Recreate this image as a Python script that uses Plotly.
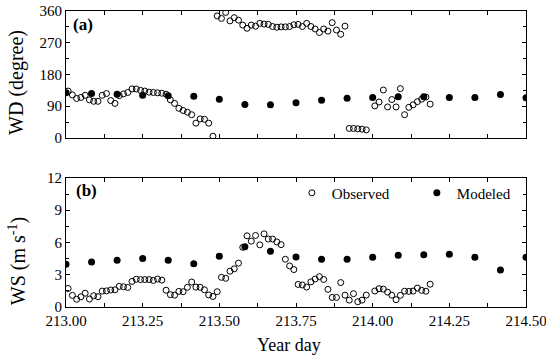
import plotly.graph_objects as go

# ---------------- data ----------------
# observation times: minutes after the start of day 213 (20-min data)
obs_minutes = [10, 30, 50, 70, 90, 110, 130, 150, 170, 190,
               210, 230, 250, 270, 290, 310, 330, 350, 370, 390,
               410, 430, 450, 470, 490, 510, 530, 550, 570, 590,
               610, 630, 650, 670, 690, 710, 730, 750, 770, 790,
               810, 830, 850, 870, 890, 910, 930, 950, 970, 990,
               1010, 1030, 1050, 1070, 1090, 1110, 1130, 1150, 1170, 1190,
               1210, 1230, 1250, 1270, 1290, 1310, 1330, 1350, 1370, 1390,
               1410, 1430, 1450, 1470, 1490, 1510, 1530, 1550, 1570, 1590,
               1610, 1630, 1650, 1670, 1690, 1710]

obs_wd = [133, 122, 112, 115, 121, 108, 104, 104, 121, 126,
          106, 98, 120, 125, 129, 139, 139, 135, 133, 130,
          129, 128, 127, 124, 108, 98, 84, 78, 73, 66,
          42, 54, 53, 42, 5, 346, 339, 356, 332, 341,
          334, 320, 311, 320, 317, 325, 323, 322, 316, 314,
          315, 315, 316, 321, 322, 316, 325, 316, 309, 299,
          309, 303, 327, 306, 294, 317, 27, 27, 26, 25,
          23, None, 91, 102, 136, 88, 109, 88, 140, 66,
          87, 94, 103, 110, 116, 96]

obs_ws = [1.72, 1.08, 0.72, 0.95, 1.28, 0.74, 1.05, 0.96, 1.48, 1.50,
          1.58, 1.60, 1.92, 1.88, 1.82, 2.38, 2.58, 2.55, 2.55, 2.55,
          2.47, 2.60, 2.50, 1.56, 1.15, 1.10, 1.45, 1.42, 1.83, 2.32,
          1.85, 1.83, 1.60, 1.12, 0.98, 1.42, 2.76, 2.67, 3.33, 3.55,
          4.08, 5.55, 6.62, 6.12, 6.65, 5.78, 6.80, 6.32, 6.32, 6.05,
          5.80, 4.44, 3.82, 3.48, 2.10, 2.05, 1.85, 2.34, 2.60, 2.82,
          2.56, 1.64, 0.89, 0.89, 2.27, 1.10, 0.64, 1.24, 0.49, 0.64,
          1.11, None, 1.49, 1.70, 1.66, 1.38, 1.10, 0.68, 1.08, 1.47,
          1.45, 1.48, 1.76, 1.55, 1.47, 2.12]

# model output times: hours after the start of day 213
model_hours = [0, 2, 4, 6, 8, 10, 12, 14, 16, 18, 20, 22, 24, 26, 28, 30, 32, 34, 36]
mod_wd = [128, 126, 124, 121, 120, 118, 110, 95, 94, 100, 107, 113, 115, 117, 117, 115, 115, 123, 114]
mod_ws = [3.97, 4.19, 4.35, 4.50, 4.35, 4.03, 4.72, 5.60, 5.19, 4.66, 4.44, 4.44, 4.63, 4.82, 4.85, 4.91, 4.63, 3.44, 4.63]

x_ticks = [213.00, 213.25, 213.50, 213.75, 214.00, 214.25, 214.50]
x_ticklabels = ["213.00", "213.25", "213.50", "213.75", "214.00", "214.25", "214.50"]

obs_day = [213 + m / 1440 for m in obs_minutes]
mod_day = [213 + h / 24 for h in model_hours]

# ---------------- figure ----------------
FONT = "Liberation Serif"
obs_marker = dict(symbol="circle-open", size=6, color="black", line=dict(width=1, color="black"))
mod_marker = dict(symbol="circle", size=7, color="black", line=dict(width=0))

fig = go.Figure()
fig.add_trace(go.Scatter(x=obs_day, y=obs_wd, mode="markers", marker=obs_marker,
                         name="Observed", xaxis="x", yaxis="y", showlegend=False))
fig.add_trace(go.Scatter(x=mod_day, y=mod_wd, mode="markers", marker=mod_marker,
                         name="Modeled", xaxis="x", yaxis="y", showlegend=False))
fig.add_trace(go.Scatter(x=obs_day, y=obs_ws, mode="markers", marker=obs_marker,
                         name="Observed", xaxis="x2", yaxis="y2", showlegend=True))
fig.add_trace(go.Scatter(x=mod_day, y=mod_ws, mode="markers", marker=mod_marker,
                         name="Modeled", xaxis="x2", yaxis="y2", showlegend=True))

axis_common = dict(showline=True, linecolor="black", linewidth=1, mirror="ticks",
                   ticks="inside", ticklen=4, tickwidth=1, tickcolor="black",
                   showgrid=False, zeroline=False, automargin=False,
                   ticklabeloverflow="allow",
                   tickfont=dict(family=FONT, size=15, color="black"))

fig.update_layout(
    template="none",
    width=546, height=360,
    margin=dict(l=66, r=20, t=11, b=53, autoexpand=False),
    paper_bgcolor="white", plot_bgcolor="white",
    font=dict(family=FONT, color="black"),
    xaxis=dict(domain=[0, 1], anchor="y", range=[213, 214.5],
               tickvals=x_ticks, showticklabels=False,
               minor=dict(ticks="inside", dtick=0.125, tick0=213, ticklen=4, tickcolor="black"),
               **axis_common),
    yaxis=dict(domain=[0.571, 1], anchor="x", range=[0, 360], tick0=0, dtick=90,
               minor=dict(ticks="inside", dtick=45, tick0=0, ticklen=3, tickcolor="black"),
               **axis_common),
    xaxis2=dict(domain=[0, 1], anchor="y2", range=[213, 214.5],
                tickvals=x_ticks, ticktext=x_ticklabels,
                minor=dict(ticks="inside", dtick=0.125, tick0=213, ticklen=4, tickcolor="black"),
                **axis_common),
    yaxis2=dict(domain=[0, 0.436], anchor="x2", range=[0, 12], tick0=0, dtick=3,
                minor=dict(ticks="inside", dtick=1.5, tick0=0, ticklen=3, tickcolor="black"),
                **axis_common),
    legend=dict(orientation="h", x=0.491, y=0.385, xanchor="left", yanchor="middle",
                bgcolor="rgba(0,0,0,0)", entrywidth=80, entrywidthmode="pixels",
                font=dict(family=FONT, size=15, color="black")),
    annotations=[
        dict(text="<b>(a)</b>", xref="paper", yref="paper", x=0.011, y=0.953,
             xanchor="left", yanchor="middle", showarrow=False,
             font=dict(family=FONT, size=17, color="black")),
        dict(text="<b>(b)</b>", xref="paper", yref="paper", x=0.017, y=0.392,
             xanchor="left", yanchor="middle", showarrow=False,
             font=dict(family=FONT, size=17, color="black")),
        dict(text="WD (degree)", xref="paper", yref="paper", x=-0.1065, y=0.757,
             xanchor="center", yanchor="middle", textangle=-90, showarrow=False,
             font=dict(family=FONT, size=20, color="black")),
        dict(text="WS (m s<sup>-1</sup>)", xref="paper", yref="paper", x=-0.1065, y=0.155,
             xanchor="center", yanchor="middle", textangle=-90, showarrow=False,
             font=dict(family=FONT, size=20, color="black")),
        dict(text="Year day", xref="paper", yref="paper", x=0.485, y=-0.128,
             xanchor="center", yanchor="middle", showarrow=False,
             font=dict(family=FONT, size=18, color="black")),
    ],
)

fig.write_html("out.html")
